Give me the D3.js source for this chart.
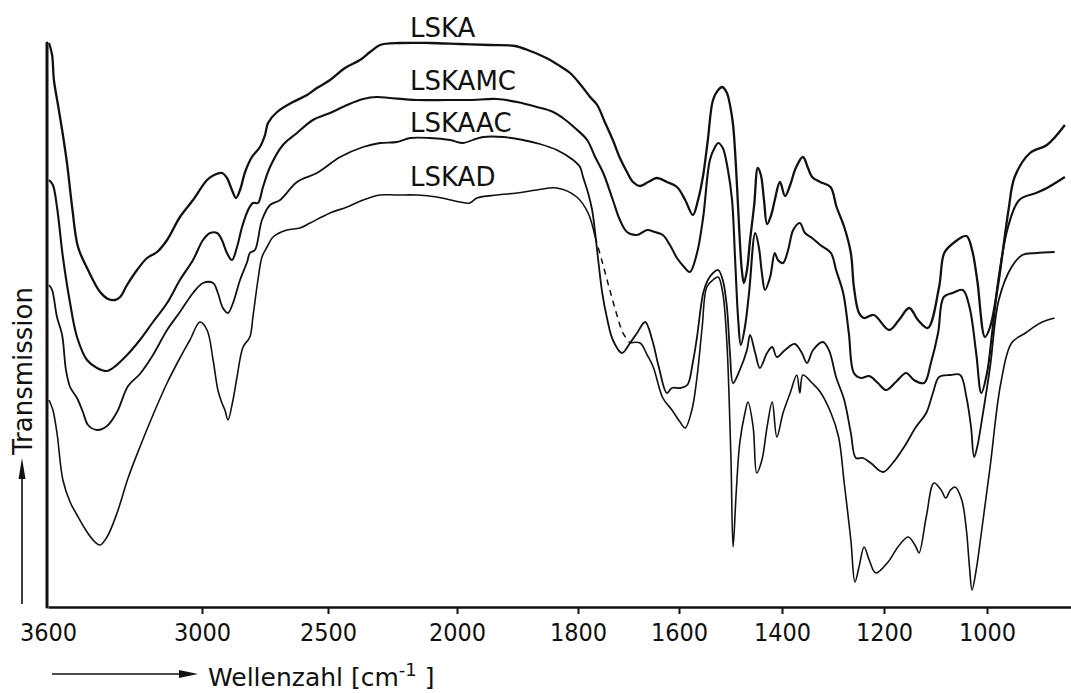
<!DOCTYPE html>
<html><head><meta charset="utf-8">
<script src="https://cdn.jsdelivr.net/npm/d3@7"></script>
<style>body{margin:0;background:#fff}svg{display:block}</style>
</head><body>
<svg id="c" width="1071" height="693"></svg>
<script>
// ---- data (wavenumber in cm-1, transmission in arbitrary units) ----
const xTickValues = [3600,3000,2500,2000,1800,1600,1400,1200,1000];
const seriesNames = ["LSKA","LSKAMC","LSKAAC","LSKAD"];
const labelWn = [2182,2182,2182,2182];
const labelT = [114,103.4,95,84.2];

const lskaWn = [3596,3584,3577,3561,3545,3526,3506,3483,3444,3397,3366,3339,3319,3292,3253,3214,3175,3136,3086,3035,2980,2952,2921,2901,2881,2865,2849,2829,2802,2770,2750,2738,2702,2639,2583,2544,2492,2434,2376,2337,2298,2221,2105,1995,1945,1904,1879,1863,1846,1830,1813,1796,1776,1762,1747,1731,1717,1703,1691,1677,1661,1644,1624,1604,1588,1573,1563,1553,1544,1534,1524,1516,1507,1501,1495,1489,1483,1478,1474,1468,1462,1454,1447,1441,1435,1429,1421,1414,1404,1394,1384,1373,1359,1349,1341,1325,1305,1293,1278,1265,1259,1249,1239,1220,1190,1171,1151,1134,1115,1093,1083,1065,1040,1029,1019,1004,994,979,958,946,916,883,848];
const lskaT  = [112.8,110.4,105.4,100.4,95.4,88.8,80,72,67.4,63,61.6,61.4,62,64.4,67.4,69.8,71,73.4,78,81.4,85.4,86.4,86.8,85.8,83.4,81.8,83.4,87,90,92,94.4,96.8,99,101,102.4,103.8,105.4,107.8,109.4,111,112.4,112.8,112.8,112.6,112.4,112.2,111.2,110.4,109.4,108.2,106.8,104.6,102,100.4,97,93.4,89.8,87,85,84.2,85,85.8,85,84,81.4,78.4,81.4,86.4,93.4,101.4,103.4,104,102.8,100.4,96.4,87.4,75.4,67.4,64.8,67.4,73.4,80.4,87.8,86.4,81.4,76.6,78.4,81.4,85,82.2,84.4,87.8,90,87.8,86,85,84,80,76,70.8,64,58.8,57.8,58.4,55.4,57.4,59.8,57.4,55.8,64,70.8,72.8,74.2,71.4,65.4,54,56,64,79.4,86,90.8,92.4,96.4];

const lskamcWn = [3596,3581,3565,3542,3514,3487,3448,3409,3370,3347,3292,3242,3191,3136,3086,3035,2996,2968,2940,2921,2901,2881,2861,2841,2817,2798,2778,2758,2730,2679,2623,2560,2492,2426,2364,2310,2260,2155,2039,1979,1934,1901,1868,1841,1825,1805,1782,1766,1750,1731,1717,1703,1683,1663,1648,1632,1618,1604,1590,1579,1565,1553,1540,1530,1524,1515,1505,1497,1491,1485,1480,1472,1464,1452,1445,1439,1433,1423,1414,1408,1398,1388,1378,1365,1355,1341,1325,1304,1294,1280,1269,1259,1245,1229,1212,1196,1177,1157,1142,1122,1109,1095,1084,1067,1047,1034,1021,1011,1000,990,977,959,937,904,883,848];
const lskamcT  = [85.4,84.4,80,70,60.8,54,49.4,47.8,47.2,47.8,50.4,53.4,57,60.8,65.4,69.4,73.4,74.8,74.8,73.4,70.8,69.4,72,76,79.4,80.8,80.8,84,88,92.4,94.8,97.4,98.8,100.4,101.6,102,101.8,101.4,101.4,101.4,101.6,101,100,99,97.8,95.8,93.4,90,86.8,81.4,77.4,75,74.4,75.4,75,74.4,72.4,69.8,68,67,70.8,78,89.4,92,92.8,91.8,87.4,81.4,69.4,57.4,52.4,56,62.8,74.8,72,66.8,63.4,66,70.8,69.4,68.8,71.4,75.4,76.8,74.8,73.8,72.4,70.8,67.4,62.8,54.8,46.8,45.8,46.2,44.8,43.4,45,46.8,45.4,44.8,48.8,54.8,62,62.8,63.4,60,50.8,42.8,46.8,54.8,66,76,81.4,82.8,83.8,86];

const lskaacWn = [3596,3584,3565,3545,3530,3514,3487,3464,3444,3409,3370,3331,3288,3242,3191,3136,3086,3035,2996,2956,2937,2917,2897,2877,2849,2821,2810,2790,2762,2730,2690,2623,2544,2453,2364,2298,2233,2182,2105,2027,1990,1974,1957,1924,1891,1863,1835,1808,1796,1790,1780,1772,1766,1760,1752,1743,1731,1713,1697,1683,1667,1653,1640,1624,1614,1598,1584,1573,1565,1553,1544,1534,1524,1515,1507,1501,1495,1482,1468,1462,1452,1443,1429,1419,1410,1394,1375,1361,1351,1339,1320,1308,1294,1278,1265,1255,1241,1226,1202,1183,1161,1138,1118,1105,1093,1071,1052,1040,1031,1025,1019,1009,994,977,952,931,904,868];
const lskaacT  = [64.4,63.4,58,54.4,47.4,44,41.8,39,36.4,35.4,36.2,39,44.2,46.6,50.4,55.4,59,62.8,64.8,64.8,62.8,59.8,58.8,60.8,65.4,69,70.8,71.4,77.4,80.4,81.4,85,86.8,90,92,92.8,93,93.8,93.8,93.4,92.8,93.4,94,94,93.4,92.6,91.4,89.4,88,86,82.8,79.4,74.8,69.4,62.8,58,53.4,50.8,52.8,54.8,57,53.4,48,42.8,43.8,43.8,44.4,49,54,62.8,65.4,66.8,67.4,65.4,60,50.8,44.8,47.4,51.4,54.4,50.8,47.8,50.8,52,50,51.4,52.6,50.8,48.8,51.4,53,51.4,46,41.4,34.8,29.8,29.8,28.8,27,28.8,32,36,38.8,42.8,46,46.4,46.4,42,36,30,32,38,48,61.4,68,70.4,70.8,71];

const lskadWn = [3596,3581,3565,3542,3514,3487,3448,3417,3397,3370,3331,3288,3242,3191,3136,3086,3047,3008,2980,2956,2937,2921,2909,2897,2877,2861,2837,2810,2798,2778,2762,2742,2718,2663,2611,2571,2492,2426,2364,2298,2233,2155,2078,1995,1979,1967,1934,1901,1868,1835,1802,1780,1766,1752,1737,1723,1711,1697,1677,1663,1651,1632,1614,1598,1588,1575,1565,1555,1546,1534,1524,1515,1507,1503,1499,1495,1489,1482,1472,1466,1456,1449,1439,1429,1419,1410,1398,1384,1371,1365,1359,1341,1325,1304,1289,1278,1265,1257,1249,1239,1229,1216,1192,1173,1153,1138,1132,1118,1103,1089,1080,1071,1062,1049,1040,1034,1029,1021,1011,994,973,952,925,896,868];
const lskadT  = [41.4,39.4,34.8,25.4,21,18.4,15,13,12.4,14,18.8,25.8,32,38.4,44.8,49.8,53.4,57,55.4,49.4,43.4,40.8,39.4,37.4,41.4,46,52,54,58,65.4,70,72,74,75.4,75.8,76.8,78.8,80,81.4,82.4,82.4,82.4,82,81,80.8,81.8,82.4,82.8,83.4,83.8,82,78.8,74,69,63.4,58.4,54.8,52.8,52.8,50.4,48,41.8,39.4,37,35.8,39.4,46,56,64,65.4,66,62.8,52.8,42.8,29.4,12,22.8,32.8,38.8,41,36,26.8,29.4,36,41,34,38.8,42.8,46.4,42.8,46.4,44.8,43,38.8,34,24.8,13.4,5,8,12,9.4,6.8,9,12,14,12,10.8,18,24.8,23.4,21.8,23.4,24,21.4,15.4,8,3.4,7.4,14.8,28,44.8,52.8,54.8,56.8,57.8];
// LSKAD is drawn dashed between these two wavenumbers
const lskadDashFrom = 1766, lskadDashTo = 1697;

// ---- chart ----
const svg = d3.select("#c");
const x = d3.scaleLinear()
  .domain([3600,3000,2500,2000,1800,1600,1400,1200,1000,836])
  .range([48,202,328,457,578,679,782,884,987,1071]);
const y = d3.scaleLinear().domain([0,113]).range([607,42]);
const FONT = "'DejaVu Sans', 'Liberation Sans', sans-serif";

// left axis (plain line)
svg.append("line").attr("x1",47).attr("x2",47).attr("y1",y(0)).attr("y2",y(112.8))
  .attr("stroke","#111").attr("stroke-width",3).attr("stroke-linecap","round");

// bottom axis
const gx = svg.append("g").attr("transform",`translate(0,${y(0)})`)
  .call(d3.axisBottom(x).tickValues(xTickValues).tickSize(7).tickSizeOuter(0).tickFormat(d3.format("d")));
gx.select(".domain").attr("stroke","#111").attr("stroke-width",2.5);
gx.selectAll(".tick line").attr("stroke","#111").attr("stroke-width",2);
gx.selectAll(".tick text").attr("y",34).attr("dy",0)
  .attr("font-family","'DejaVu Sans Condensed', 'DejaVu Sans', sans-serif").attr("font-size",25).attr("fill","#111");
gx.selectAll(".tick").filter(d=>d===3600).select("line").remove();

const line = d3.line().x(d=>x(d[0])).y(d=>y(d[1])).curve(d3.curveCatmullRom.alpha(0.5));

function draw(wn, t, sw, dash){
  svg.append("path").datum(d3.zip(wn,t)).attr("d",line)
    .attr("fill","none").attr("stroke","#111").attr("stroke-width",sw)
    .attr("stroke-linejoin","round").attr("stroke-dasharray",dash||null);
}
draw(lskaWn, lskaT, 2.3);
draw(lskamcWn, lskamcT, 2.1);
draw(lskaacWn, lskaacT, 1.8);
const ad = d3.zip(lskadWn, lskadT);
const part1 = ad.filter(d=>d[0]>=lskadDashFrom);
const partD = ad.filter(d=>d[0]<=lskadDashFrom && d[0]>=lskadDashTo);
const part2 = ad.filter(d=>d[0]<=lskadDashTo);
draw(part1.map(d=>d[0]), part1.map(d=>d[1]), 1.6);
draw(partD.map(d=>d[0]), partD.map(d=>d[1]), 1.5, "6,5");
draw(part2.map(d=>d[0]), part2.map(d=>d[1]), 1.6);

// series labels
svg.selectAll("text.lab").data(seriesNames).join("text").attr("class","lab")
  .attr("x",(d,i)=>x(labelWn[i])).attr("y",(d,i)=>y(labelT[i]))
  .attr("font-family",FONT).attr("font-size",26).attr("fill","#111").text(d=>d);

// y title with arrow
svg.append("text").attr("transform","translate(32,371) rotate(-90)")
  .attr("text-anchor","middle").attr("font-family",FONT).attr("font-size",26).attr("fill","#111")
  .text("Transmission");
svg.append("line").attr("x1",22).attr("x2",22).attr("y1",604).attr("y2",474).attr("stroke","#111").attr("stroke-width",1.6);
svg.append("path").attr("d","M22,458 L18.5,479 L25.5,479 Z").attr("fill","#111");

// x title with arrow
svg.append("line").attr("x1",52).attr("x2",184).attr("y1",674).attr("y2",674).attr("stroke","#111").attr("stroke-width",1.6);
svg.append("path").attr("d","M198,674 L179,670 L179,678 Z").attr("fill","#111");
const xt = svg.append("text").attr("x",208).attr("y",686).attr("font-family",FONT).attr("font-size",25).attr("fill","#111");
xt.append("tspan").text("Wellenzahl [cm");
xt.append("tspan").attr("font-size",18).attr("dy",-10).text("-1");
xt.append("tspan").attr("dy",10).text(" ]");
</script>
</body></html>
